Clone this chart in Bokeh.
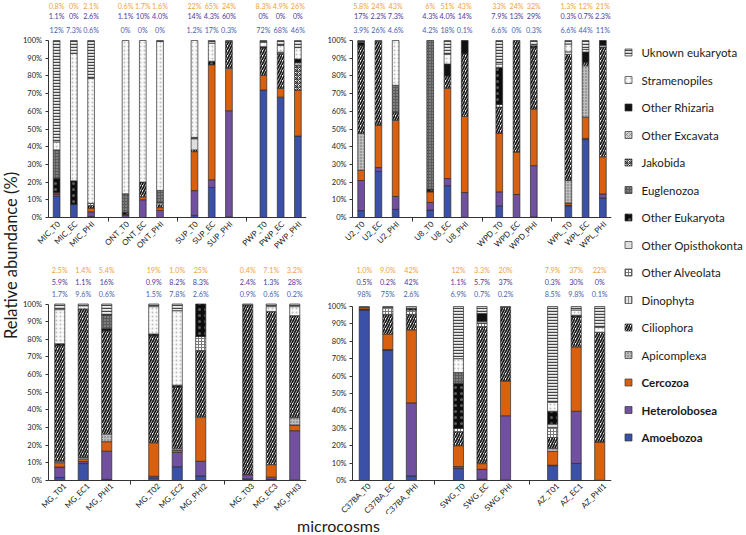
import math
from bokeh.plotting import figure
from bokeh.layouts import row, column
from bokeh.models import (Range1d, FixedTicker, PrintfTickFormatter, ColumnDataSource,
                          LabelSet)
from bokeh.core.properties import value
from bokeh.embed import file_html
from bokeh.resources import INLINE

FONT = "Lato"

# ---------------- categories (stack order bottom -> top) ----------------
CATS = ["Amoebozoa", "Heterolobosea", "Cercozoa", "Apicomplexa", "Ciliophora",
        "Dinophyta", "Other Alveolata", "Other Opisthokonta", "Other Eukaryota",
        "Euglenozoa", "Jakobida", "Other Excavata", "Other Rhizaria",
        "Stramenopiles", "Uknown eukaryota"]
BOLD = ["Cercozoa", "Heterolobosea", "Amoebozoa"]

# ---------------- top-left panel ----------------
TL_SAMPLES = ["MIC_T0", "MIC_EC", "MIC_PHI", "ONT_T0", "ONT_EC", "ONT_PHI",
              "SUP_T0", "SUP_EC", "SUP_PHI", "PWP_T0", "PWP_EC", "PWP_PHI"]
TL_CER = ["0.8%", "0%", "2.1%", "0.6%", "1.7%", "1.6%", "22%", "65%", "24%", "8.3%", "4.9%", "26%"]
TL_HET = ["1.1%", "0%", "2.6%", "1.1%", "10%", "4.0%", "14%", "4.3%", "60%", "0%", "0%", "0%"]
TL_AMO = ["12%", "7.3%", "0.6%", "0%", "0%", "0%", "1.2%", "17%", "0.3%", "72%", "68%", "46%"]
TL_CIL = [0.3, 0, 1.5, 0, 8.3, 1.5, 1.0, 0, 15.0, 15.6, 19.5, 0]
TL_OAL = [0, 0, 1.2, 0, 0, 1.4, 0, 0, 0, 0, 0, 0]
TL_OOP = [0, 0, 0, 0, 0, 0, 6.3, 0, 0, 0, 0, 0]
TL_OEU = [8.0, 13.4, 0, 1.2, 0, 0, 0, 2.0, 0, 0, 0, 0]
TL_EUG = [16.0, 0, 0, 10.5, 0, 6.8, 0.8, 0, 0, 0, 1.0, 0]
TL_JAK = [0, 0, 0, 0, 0, 0, 0, 0, 0, 0, 0, 14.0]
TL_OEX = [0, 0, 0, 0, 0, 0, 0, 0, 0, 0, 0, 1.5]
TL_ORH = [0, 0, 0, 0, 0, 0, 0, 0, 0, 0.6, 0, 2.0]
TL_STR = [4.5, 72.0, 70.5, 86.6, 80.0, 84.2, 54.7, 10.2, 0, 2.5, 3.8, 6.5]
TL_UNK = [57.3, 7.3, 21.5, 0, 0, 0.5, 0, 1.5, 0.7, 1.0, 2.8, 4.0]

# ---------------- top-right panel ----------------
TR_SAMPLES = ["U2_T0", "U2_EC", "U2_PHI", "U8_T0", "U8_EC", "U8_PHI",
              "WPD_T0", "WPD_EC", "WPD_PHI", "WPL_T0", "WPL_EC", "WPL_PHI"]
TR_CER = ["5.8%", "24%", "43%", "6%", "51%", "43%", "33%", "24%", "32%", "1.3%", "12%", "21%"]
TR_HET = ["17%", "2.2%", "7.3%", "4.3%", "4.0%", "14%", "7.9%", "13%", "29%", "0.3%", "0.7%", "2.3%"]
TR_AMO = ["3.9%", "26%", "4.6%", "4.2%", "18%", "0.1%", "6.6%", "0%", "0.3%", "6.6%", "44%", "11%"]
TR_API = [20.8, 0, 0, 0, 0, 0, 0, 0, 0, 12.7, 29.0, 0]
TR_CIL = [49.5, 47.3, 4.6, 0, 7.0, 35.4, 14.9, 63.0, 34.7, 71.2, 2.0, 62.0]
TR_OAL = [0, 0, 0, 0, 0, 0, 1.5, 0, 0, 0, 0, 0]
TR_OOP = [0, 0, 0, 0, 0, 0, 0, 0, 0, 1.5, 0, 1.0]
TR_OEU = [0, 0, 0, 1.5, 0, 0, 20.9, 0, 1.0, 0, 0, 0]
TR_EUG = [0, 0, 15.2, 84.0, 0, 0, 0, 0, 0, 0, 0, 0]
TR_ORH = [2.0, 0, 0, 0, 6.7, 7.5, 0, 0, 0, 0, 5.8, 2.7]
TR_STR = [0, 0, 25.3, 0, 5.5, 0, 1.9, 0, 0, 4.4, 1.5, 0]
TR_UNK = [1.0, 0.5, 0, 0, 7.8, 0, 13.3, 0, 3.0, 2.0, 5.0, 0]

# ---------------- bottom-left panel ----------------
BL_SAMPLES = ["MG_T01", "MG_EC1", "MG_PHI1", "MG_T02", "MG_EC2", "MG_PHI2",
              "MG_T03", "MG_EC3", "MG_PHI3"]
BL_CER = ["2.5%", "1.4%", "5.4%", "19%", "1.0%", "25%", "0.4%", "7.1%", "3.2%"]
BL_HET = ["5.9%", "1.1%", "16%", "0.9%", "8.2%", "8.3%", "2.4%", "1.3%", "28%"]
BL_AMO = ["1.7%", "9.6%", "0.6%", "1.5%", "7.8%", "2.6%", "0.9%", "0.6%", "0.2%"]
BL_API = [0.9, 0.9, 4.4, 0, 1.0, 0, 0, 0, 4.2]
BL_CIL = [65.5, 84.2, 58.5, 60.6, 34.8, 37.7, 95.8, 86.8, 57.8]
BL_OAL = [0, 0, 0, 0, 0, 8.0, 0, 0, 0]
BL_OEU = [1.0, 0, 1.1, 1.0, 1.2, 18.4, 0, 0, 0]
BL_EUG = [0, 0, 7.8, 0, 0, 0, 0, 0, 0]
BL_STR = [19.3, 1.8, 0, 15.5, 42.2, 0, 0, 2.7, 5.1]
BL_UNK = [3.2, 1.0, 6.2, 1.5, 3.8, 0, 0.5, 1.5, 1.5]

# ---------------- bottom-right panel ----------------
BR_SAMPLES = ["C37BA_T0", "C37BA_EC", "C37BA_PHI", "SWG_T0", "SWG_EC", "SWG_PHI",
              "AZ_T01", "AZ_EC1", "AZ_PHI1"]
BR_CER = ["1.0%", "9.0%", "42%", "12%", "3.3%", "20%", "7.9%", "37%", "22%"]
BR_HET = ["0.5%", "0.2%", "42%", "1.1%", "5.7%", "37%", "0.3%", "30%", "0%"]
BR_AMO = ["98%", "75%", "2.6%", "6.9%", "0.7%", "0.2%", "8.5%", "9.8%", "0.1%"]
BR_API = [0, 0, 0, 0, 0, 0, 1.8, 0, 0]
BR_CIL = [0, 11.3, 8.9, 8.0, 78.7, 42.3, 6.2, 17.2, 63.1]
BR_OAL = [0, 4.0, 2.5, 2.0, 2.1, 0, 5.8, 0, 0]
BR_OOP = [0, 0, 0, 0, 1.0, 0, 1.9, 0, 0]
BR_OEU = [0, 0, 1.0, 25.8, 0, 0, 7.4, 1.0, 0]
BR_EUG = [0, 0, 0, 6.2, 0, 0, 0, 0, 0]
BR_ORH = [0, 0, 0, 0, 4.5, 0, 0, 0, 0]
BR_STR = [0, 0, 0, 8.0, 0, 0, 5.2, 3.0, 2.8]
BR_UNK = [0.5, 0.5, 1.0, 30.0, 4.0, 0.5, 55.0, 2.0, 12.0]

Y_TICKS = [0, 10, 20, 30, 40, 50, 60, 70, 80, 90, 100]

STYLE = {
    "Amoebozoa": dict(fill_color="#3A51A7"),
    "Heterolobosea": dict(fill_color="#7150A0"),
    "Cercozoa": dict(fill_color="#D9600E"),
    "Apicomplexa": dict(fill_color="#bdbdbd", hatch_pattern="dot", hatch_color="#666666", hatch_scale=3, hatch_weight=1),
    "Ciliophora": dict(fill_color="#ffffff", hatch_pattern="right_diagonal_line", hatch_color="#1a1a1a", hatch_scale=5, hatch_weight=1.7),
    "Dinophyta": dict(fill_color="#e6e6e6", hatch_pattern="vertical_line", hatch_color="#8a8a8a", hatch_scale=3, hatch_weight=1),
    "Other Alveolata": dict(fill_color="#ffffff", hatch_pattern="cross", hatch_color="#7a7a7a", hatch_scale=3, hatch_weight=1),
    "Other Opisthokonta": dict(fill_color="#dedede"),
    "Other Eukaryota": dict(fill_color="#0d0d0d", hatch_pattern="dot", hatch_color="#5a5a5a", hatch_scale=6, hatch_weight=1),
    "Euglenozoa": dict(fill_color="#5c5c5c", hatch_pattern="dot", hatch_color="#b0b0b0", hatch_scale=3, hatch_weight=1),
    "Jakobida": dict(fill_color="#ffffff", hatch_pattern="criss_cross", hatch_color="#2a2a2a", hatch_scale=4, hatch_weight=1),
    "Other Excavata": dict(fill_color="#d4d4d4", hatch_pattern="diagonal_cross", hatch_color="#8a8a8a", hatch_scale=4, hatch_weight=0.8),
    "Other Rhizaria": dict(fill_color="#111111"),
    "Stramenopiles": dict(fill_color="#fafafa", hatch_pattern="dot", hatch_color="#c0c0c0", hatch_scale=4, hatch_weight=1),
    "Uknown eukaryota": dict(fill_color="#eeeeee", hatch_pattern="horizontal_line", hatch_color="#444444", hatch_scale=3, hatch_weight=1.4),
}

ORANGE_T = "#F2A33A"
PURPLE_T = "#4E3A95"
BLUE_T = "#4862B0"


def pct(lbls):
    return [float(s.rstrip("%")) for s in lbls]


def make_panel(samples, cer, het, amo, others, width, height, left_px, right_px,
               y0_px, px_per_pct, bar_w, label_ys, xl_off):
    """left_px: distance from figure edge to the y axis; y0_px: distance from
    the figure top to the 0% line."""
    n = len(samples)
    xs = [i + i // 3 + 1 for i in range(n)]
    gaps = [xs[3 * g + 2] + 1 for g in range(n // 3 - 1)]
    xmax = xs[-1] + 0.5
    inner = width - left_px - right_px
    px_x = inner / (xmax - 0.5)
    x_start = 0.5 - left_px / px_x
    y_end = y0_px / px_per_pct
    y_start = -(height - y0_px) / px_per_pct
    p = figure(width=width, height=height, x_range=Range1d(x_start, xmax),
               y_range=Range1d(y_start, y_end), output_backend="svg",
               toolbar_location=None, title=None,
               min_border_left=0, min_border_right=right_px, min_border_top=0,
               min_border_bottom=0)
    p.outline_line_color = None
    p.grid.visible = False
    p.background_fill_color = "white"
    p.border_fill_color = "white"

    vals = {"Amoebozoa": pct(amo), "Heterolobosea": pct(het), "Cercozoa": pct(cer)}
    vals.update(others)
    base = [0.0] * n
    for cat in CATS:
        v = vals.get(cat, [0] * n)
        idx = [i for i in range(n) if v[i] > 0]
        src = ColumnDataSource(dict(
            x=[xs[i] for i in idx],
            bottom=[base[i] for i in idx],
            top=[base[i] + v[i] for i in idx]))
        p.vbar(x="x", bottom="bottom", top="top", width=bar_w, source=src,
               line_color="#2b2b2b", line_width=0.7, **STYLE[cat])
        for i in range(n):
            base[i] += v[i]

    for lbls, yy, col in ((cer, label_ys[0], ORANGE_T), (het, label_ys[1], PURPLE_T),
                          (amo, label_ys[2], BLUE_T)):
        p.text(x=xs, y=[yy] * n, text=lbls, text_align="center",
               text_baseline="middle", text_font=value(FONT),
               text_font_size="7.2px", text_color=col)

    # x axis placed at 0%
    p.xaxis.fixed_location = 0
    p.xaxis.bounds = (0.5, xmax)
    p.xaxis.ticker = FixedTicker(ticks=xs, minor_ticks=gaps)
    p.xaxis.major_tick_out = 0
    p.xaxis.major_tick_in = 0
    p.xaxis.minor_tick_out = 4
    p.xaxis.minor_tick_in = 0
    p.xaxis.minor_tick_line_color = "#333333"
    p.xaxis.axis_line_color = "#333333"
    p.xaxis.major_label_text_color = None
    p.xaxis.major_label_text_font_size = "1px"

    lab_src = ColumnDataSource(dict(
        x=[x + xl_off[0] / px_x for x in xs],
        y=[-xl_off[1] / px_per_pct] * n,
        text=samples))
    p.add_layout(LabelSet(x="x", y="y", text="text", source=lab_src,
                          angle=math.pi / 4, text_align="right",
                          text_baseline="middle", text_font=value(FONT),
                          text_font_size="8px", text_color="#222222"))

    # y axis placed at the left end of the category axis
    p.yaxis.fixed_location = 0.5
    p.yaxis.ticker = FixedTicker(ticks=Y_TICKS)
    p.yaxis.formatter = PrintfTickFormatter(format="%d%%")
    p.yaxis.bounds = (0, 100)
    p.yaxis.major_tick_in = 0
    p.yaxis.major_tick_out = 3
    p.yaxis.minor_tick_line_color = None
    p.yaxis.major_label_text_font = FONT
    p.yaxis.major_label_text_font_size = "7.5px"
    p.yaxis.major_label_text_color = "#222222"
    p.yaxis.major_label_standoff = 3
    p.yaxis.axis_line_color = "#333333"
    p.yaxis.major_tick_line_color = "#333333"
    return p


TOP_LBL = (119.2, 113.6, 105.6)
tl = make_panel(TL_SAMPLES, TL_CER, TL_HET, TL_AMO,
                {"Ciliophora": TL_CIL, "Other Alveolata": TL_OAL,
                 "Other Opisthokonta": TL_OOP, "Other Eukaryota": TL_OEU,
                 "Euglenozoa": TL_EUG, "Jakobida": TL_JAK, "Other Excavata": TL_OEX,
                 "Other Rhizaria": TL_ORH, "Stramenopiles": TL_STR,
                 "Uknown eukaryota": TL_UNK},
                298, 258, 25.5, 14, 217, 1.77, 0.39, TOP_LBL, (2, 5))
tr = make_panel(TR_SAMPLES, TR_CER, TR_HET, TR_AMO,
                {"Apicomplexa": TR_API, "Ciliophora": TR_CIL, "Other Alveolata": TR_OAL,
                 "Other Opisthokonta": TR_OOP, "Other Eukaryota": TR_OEU,
                 "Euglenozoa": TR_EUG, "Other Rhizaria": TR_ORH,
                 "Stramenopiles": TR_STR, "Uknown eukaryota": TR_UNK},
                300, 258, 32, 9, 217, 1.77, 0.39, TOP_LBL, (2, 5))
bl = make_panel(BL_SAMPLES, BL_CER, BL_HET, BL_AMO,
                {"Apicomplexa": BL_API, "Ciliophora": BL_CIL, "Other Alveolata": BL_OAL,
                 "Other Eukaryota": BL_OEU, "Euglenozoa": BL_EUG,
                 "Stramenopiles": BL_STR, "Uknown eukaryota": BL_UNK},
                298, 256, 25.5, 14, 222, 1.765, 0.43, (119.0, 112.2, 105.4), (5, 4))
br = make_panel(BR_SAMPLES, BR_CER, BR_HET, BR_AMO,
                {"Apicomplexa": BR_API, "Ciliophora": BR_CIL, "Other Alveolata": BR_OAL,
                 "Other Opisthokonta": BR_OOP, "Other Eukaryota": BR_OEU,
                 "Euglenozoa": BR_EUG, "Other Rhizaria": BR_ORH,
                 "Stramenopiles": BR_STR, "Uknown eukaryota": BR_UNK},
                300, 256, 32, 9, 222, 1.74, 0.43, (120.7, 113.8, 106.9), (5, 4))


def blank(w, h):
    f = figure(width=w, height=h, x_range=Range1d(0, w), y_range=Range1d(0, h),
               output_backend="svg", toolbar_location=None, title=None, min_border=0)
    f.axis.visible = False
    f.grid.visible = False
    f.outline_line_color = None
    f.border_fill_color = "white"
    f.background_fill_color = "white"
    return f


H = 534
ytitle = blank(22, H)
ytitle.text(x=[10], y=[H - 255], text=["Relative abundance (%)"], angle=math.pi / 2,
            text_align="center", text_baseline="middle", text_font=value(FONT),
            text_font_size="16.5px", text_color="#1a1a1a")

xtitle = blank(598, 20)
xtitle.text(x=[316], y=[9.5], text=["microcosms"], text_align="center",
            text_baseline="middle", text_font=value(FONT),
            text_font_size="16px", text_color="#1a1a1a")

leg = blank(125, H)
legend_order = CATS[::-1]
for k, cat in enumerate(legend_order):
    yy = H - (52 + 27.5 * k)
    leg.rect(x=[8], y=[yy], width=7, height=7, line_color="#333333",
             line_width=0.7, **STYLE[cat])
    leg.text(x=[21], y=[yy], text=[cat], text_align="left", text_baseline="middle",
             text_font=value(FONT), text_font_size="11.5px",
             text_font_style="bold" if cat in BOLD else "normal",
             text_color="#1a1a1a")

layout = row(ytitle, column(row(tl, tr), row(bl, br), xtitle), leg)

open("out.html", "w").write(file_html(layout, INLINE))
